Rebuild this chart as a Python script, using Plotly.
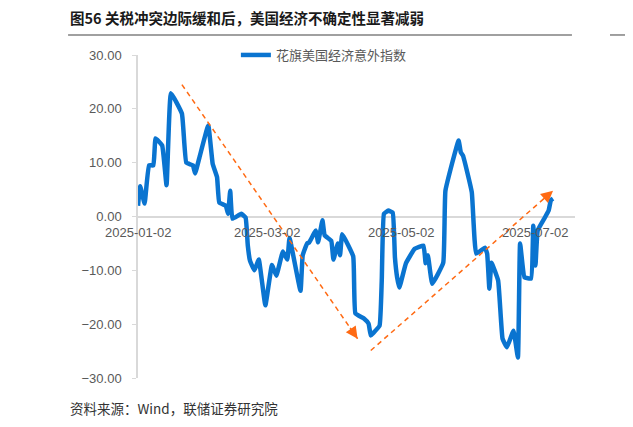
import plotly.graph_objects as go

dates = ["2025-01-02","2025-01-03","2025-01-05","2025-01-07","2025-01-09","2025-01-10","2025-01-13","2025-01-15","2025-01-17","2025-01-22",
"2025-01-24","2025-01-27","2025-01-28","2025-01-30","2025-02-03","2025-02-05","2025-02-07","2025-02-08","2025-02-11","2025-02-12",
"2025-02-13","2025-02-14","2025-02-18","2025-02-20","2025-02-21","2025-02-22","2025-02-24","2025-02-26","2025-03-01","2025-03-04",
"2025-03-06","2025-03-09","2025-03-11","2025-03-12","2025-03-17","2025-03-18","2025-03-20","2025-03-21","2025-03-24","2025-03-25",
"2025-03-27","2025-03-28","2025-03-31","2025-04-01","2025-04-03","2025-04-04","2025-04-05","2025-04-10","2025-04-11","2025-04-15",
"2025-04-17","2025-04-18","2025-04-19","2025-04-22","2025-04-23","2025-04-24","2025-04-26","2025-04-28","2025-04-29","2025-04-30",
"2025-05-01","2025-05-04","2025-05-08","2025-05-12","2025-05-13","2025-05-14","2025-05-16","2025-05-21","2025-05-22","2025-05-28",
"2025-05-29","2025-05-30","2025-06-03","2025-06-05","2025-06-09","2025-06-10","2025-06-11","2025-06-12","2025-06-15","2025-06-17",
"2025-06-19","2025-06-22","2025-06-24","2025-06-25","2025-06-27","2025-06-30","2025-07-01","2025-07-02","2025-07-03","2025-07-06",
"2025-07-08","2025-07-09","2025-07-10"]
values = [2.0,5.6,2.4,9.5,9.5,14.5,13.2,5.8,22.9,19.1,
10.0,9.5,8.0,11.0,16.9,9.8,7.3,2.6,2.0,0.5,
4.8,-0.4,0.5,-0.2,-5.4,-8.2,-10.0,-8.0,-16.5,-9.0,
-11.0,-6.5,-8.0,-4.0,-13.8,-7.2,-5.0,-4.8,-2.6,-4.8,
-0.7,-3.5,-4.5,-8.0,-5.0,-7.2,-3.3,-7.4,-18.0,-19.0,
-19.9,-22.1,-21.7,-20.3,-11.9,0.5,1.1,0.7,-7.6,-11.3,
-13.2,-8.7,-6.0,-5.4,-8.7,-7.2,-12.5,-8.6,4.8,14.1,
11.9,11.3,4.5,-6.9,-5.8,-6.9,-13.4,-8.6,-11.9,-22.7,
-24.3,-21.2,-26.2,-5.0,-11.3,-11.5,-1.7,-9.1,-2.6,-0.4,
1.1,3.0,3.3]
series_name = "花旗美国经济意外指数"
tick_dates = ["2025-01-02","2025-03-02","2025-05-02","2025-07-02"]

gray = "#595959"
orange = "#FF6A13"
fig = go.Figure()
fig.add_trace(go.Scatter(x=dates, y=values, mode="lines", name=series_name,
                         line=dict(color="#0A74D0", width=4.5, shape="spline", smoothing=0.3)))

arrows = [("2025-01-22", 24.5, "2025-04-12", -22.7, -8.5, -12.3),
          ("2025-04-18", -24.9, "2025-07-10", 4.8, -11.3, 9.9)]
for x0, y0, x1, y1, hx, hy in arrows:
    fig.add_shape(type="line", x0=x0, y0=y0, x1=x1, y1=y1, xref="x", yref="y",
                  line=dict(color=orange, width=1.5, dash="5px,4px"))
    fig.add_annotation(x=x1, y=y1, ax=hx, ay=hy, xref="x", yref="y",
                       showarrow=True, arrowhead=2, arrowsize=1.6, arrowwidth=1.5,
                       arrowcolor=orange, text="")
for d in tick_dates:
    fig.add_annotation(x=d, y=0, xref="x", yref="y", yshift=-16, text=d, showarrow=False,
                       font=dict(size=13, color=gray))

fig.add_annotation(xref="paper", yref="paper", x=-0.16, y=1.115, xanchor="left", yanchor="middle",
                   text="<b>图56 关税冲突边际缓和后，美国经济不确定性显著减弱</b>", showarrow=False,
                   font=dict(size=14.5, color="#1a1a1a", family="Noto Sans CJK SC"))
fig.add_annotation(xref="paper", yref="paper", x=-0.16, y=-0.093, xanchor="left", yanchor="middle",
                   text="资料来源：Wind，联储证券研究院", showarrow=False,
                   font=dict(size=13.5, color="#333333", family="Noto Sans CJK SC"))
fig.add_shape(type="line", xref="paper", yref="paper", x0=-0.16, x1=0.993, y0=1.062, y1=1.062,
              line=dict(color="#808080", width=1.5))
fig.add_shape(type="line", xref="paper", yref="paper", x0=1.08, x1=1.14, y0=1.062, y1=1.062,
              line=dict(color="#808080", width=1.5))

fig.update_layout(
    width=625, height=419, margin=dict(l=130, r=58, t=47, b=49, autoexpand=False),
    plot_bgcolor="white", paper_bgcolor="white",
    font=dict(family="Liberation Sans", color=gray, size=13),
    showlegend=True,
    legend=dict(x=0.224, y=1.0, xanchor="left", yanchor="middle", orientation="h",
                bgcolor="rgba(0,0,0,0)",
                font=dict(size=13, color=gray, family="Noto Sans CJK SC")),
    xaxis=dict(type="date", range=["2025-01-02", "2025-07-20"], showticklabels=False,
               showgrid=False, showline=False, zeroline=False,
               tickvals=tick_dates, ticks=""),
    yaxis=dict(range=[-30, 30], dtick=10, tickformat=".2f", showgrid=False,
               zeroline=True, zerolinecolor="#d9d9d9", zerolinewidth=2,
               showline=True, linecolor="#d9d9d9", linewidth=1.5,
               ticks="outside", ticklen=4, tickcolor="#d9d9d9", ticklabelstandoff=8),
)
fig.write_html("out.html")
